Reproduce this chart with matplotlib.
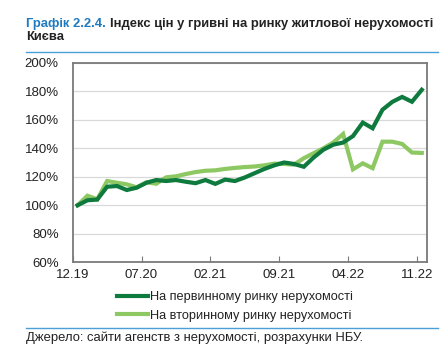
import numpy as np
import matplotlib
matplotlib.use("Agg")
import matplotlib.pyplot as plt
from matplotlib.lines import Line2D

plt.rcParams['font.family'] = ['Liberation Sans', 'DejaVu Sans']

# індекс цін, % (12.19 = 100%)
primary = [100, 103.5, 104, 113, 113.5, 110.7, 112.3, 115.8, 117.7, 117,
           117.7, 116.5, 115.5, 117.7, 115, 118, 117, 119.5, 122.5, 125.5,
           128, 130, 129, 127, 133.5, 139, 142.5, 144, 148.5, 158,
           154, 167, 172.5, 176, 172.6, 181]
secondary = [100, 106.7, 104.2, 117, 115.8, 114.7, 112.6, 116.1, 115.1, 119.6,
             120.3, 121.9, 123.3, 124.2, 124.5, 125.5, 126.2, 126.8, 127.2, 128,
             129.2, 129, 128.5, 133, 136.5, 140, 144, 150, 125.2, 129.4,
             126, 144.6, 144.6, 143, 137, 136.7]
tick_labels = ['12.19', '07.20', '02.21', '09.21', '04.22', '11.22']
series_names = ['На первинному ринку нерухомості', 'На вторинному ринку нерухомості']

dark = '#0e7a3d'
light = '#8dc863'
blue = '#4a9fd8'

fig = plt.figure(figsize=(4.47, 3.56), dpi=100)
ax = fig.add_axes([0.1626, 0.2632, 0.792, 0.5607])

x = np.arange(len(primary)) + 0.5
ax.plot(x, primary, color=dark, lw=3.0, solid_joinstyle='miter', zorder=3)
ax.plot(x, secondary, color=light, lw=3.0, solid_joinstyle='miter', zorder=2)

ax.set_xlim(0, len(primary))
ax.set_ylim(60, 200)
ax.set_yticks(np.arange(60, 201, 20))
ax.set_yticklabels([f'{v}%' for v in range(60, 201, 20)])
ax.set_xticks(np.arange(0, len(primary), 7))
ax.set_xticklabels(tick_labels)
ax.grid(axis='y', color='#d9d9d9', lw=0.9)
ax.set_axisbelow(True)
for s in ax.spines.values():
    s.set_color('#7a7a7a')
    s.set_linewidth(1.3)
ax.tick_params(axis='y', length=0, pad=10, labelsize=9.5, colors='#222222')
ax.tick_params(axis='x', direction='in', length=4, color='#7a7a7a', pad=5,
               labelsize=9.5, labelcolor='#222222')

# заголовок
fs = 9.4
t1 = fig.text(0.058, 0.933, 'Графік 2.2.4.', color='#1f7ac0', fontsize=fs,
              fontweight='bold', va='center')
fig.canvas.draw()
bb = t1.get_window_extent().transformed(fig.transFigure.inverted())
fig.text(bb.x1 + 0.009, 0.933, 'Індекс цін у гривні на ринку житлової нерухомості',
         color='#222222', fontsize=fs, fontweight='bold', va='center')
fig.text(0.058, 0.896, 'Києва', color='#222222', fontsize=fs,
         fontweight='bold', va='center')
fig.add_artist(Line2D([0.058, 0.98], [0.854, 0.854], color=blue, lw=1.0))

# легенда
handles = [Line2D([], [], color=dark, lw=3.0), Line2D([], [], color=light, lw=3.0)]
fig.legend(handles, series_names, loc='upper left', bbox_to_anchor=(0.248, 0.2),
           frameon=False, fontsize=9.2, handlelength=2.4, handletextpad=0.2,
           labelspacing=0.5, borderpad=0, labelcolor='#222222')

fig.add_artist(Line2D([0.058, 0.98], [0.079, 0.079], color=blue, lw=1.0))
fig.text(0.058, 0.05, 'Джерело: сайти агенств з нерухомості, розрахунки НБУ.',
         color='#222222', fontsize=9.35, va='center')

fig.savefig('out.png', dpi=100)
